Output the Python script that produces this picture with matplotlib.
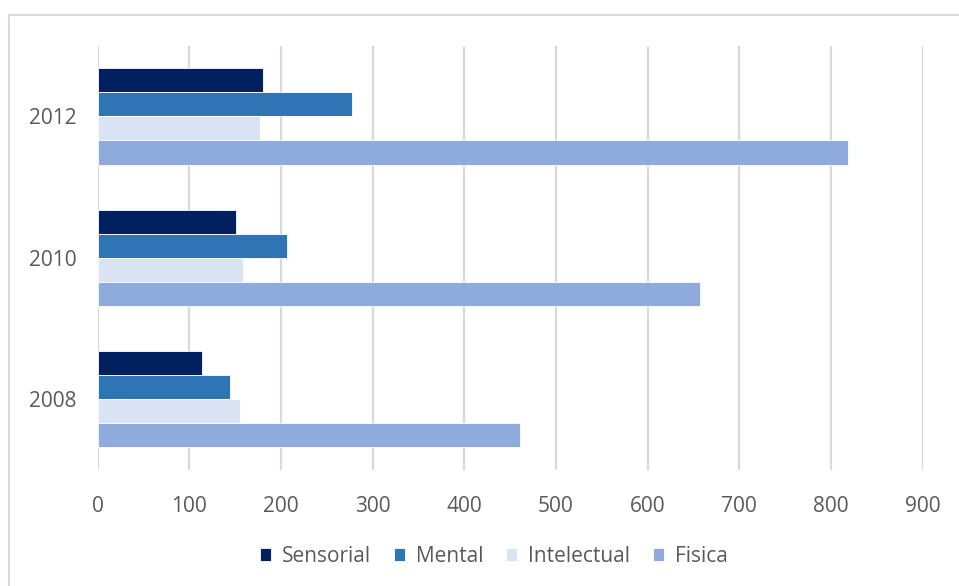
import numpy as np
import matplotlib
matplotlib.use('Agg')
from matplotlib import pyplot as plt
from matplotlib.patches import Rectangle

years = ['2008', '2010', '2012']
series = ['Sensorial', 'Mental', 'Intelectual', 'Fisica']
sensorial = [114, 151, 180]
mental = [145, 207, 278]
intelectual = [155, 159, 177]
fisica = [461, 657, 818]
colors = ['#002060', '#2E75B6', '#DAE3F3', '#8FAADC']
xticks = [0, 100, 200, 300, 400, 500, 600, 700, 800, 900]

plt.rcParams['font.family'] = ['Open Sans', 'DejaVu Sans']

fig = plt.figure(figsize=(9.59, 5.86), dpi=100)
ax = fig.add_axes([0.1017, 0.198, 0.9622 - 0.1017, 0.922 - 0.198])

# outer chart border (cut off on right/bottom like the reference)
fig.patches.append(Rectangle((9 / 959, -0.05), 1.1, 1 - 15 / 586 + 0.05,
                             transform=fig.transFigure, fill=False,
                             edgecolor='#D9D9D9', linewidth=1.5))

y = np.arange(len(years))
h = 0.17
values = [sensorial, mental, intelectual, fisica]
for i, (name, vals) in enumerate(zip(series, values)):
    # Sensorial on top within each group
    offs = (1.5 - i) * h
    ax.barh(y + offs, vals, height=h, color=colors[i], label=name,
            edgecolor='#ffffff', linewidth=0.6, zorder=3)

ax.set_xlim(0, 900)
ax.set_ylim(-0.5, 2.5)
ax.set_xticks(xticks)
ax.set_yticks(y)
ax.set_yticklabels(years)
ax.grid(axis='x', color='#D9D9D9', linewidth=1.6, zorder=0)
for s in ax.spines.values():
    s.set_visible(False)
ax.tick_params(axis='both', length=0, colors='#595959', labelsize=15)
ax.tick_params(axis='y', pad=15)
ax.tick_params(axis='x', pad=19)

ax.legend(loc='upper center', bbox_to_anchor=(0.48, -0.135), ncol=4,
          frameon=False, fontsize=15, handlelength=0.55, handleheight=0.55,
          handletextpad=0.5, columnspacing=1.1, labelcolor='#595959')

fig.savefig('out.png', dpi=100)
